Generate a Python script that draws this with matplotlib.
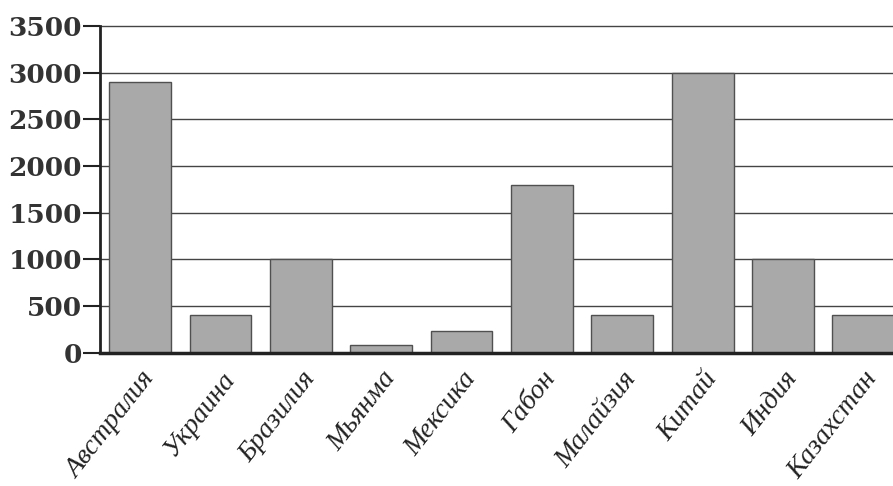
import matplotlib.pyplot as plt

countries = ['Австралия', 'Украина', 'Бразилия', 'Мьянма', 'Мексика',
             'Габон', 'Малайзия', 'Китай', 'Индия', 'Казахстан']
values = [2900, 400, 1000, 80, 230, 1800, 400, 3000, 1000, 400]
yticks = [0, 500, 1000, 1500, 2000, 2500, 3000, 3500]

fig = plt.figure(figsize=(8.93, 4.86), dpi=100)
ax = fig.add_axes([0.112, 0.274, 0.888, 0.6725])

x = range(len(countries))
ax.bar(x, values, width=0.77, color='#a9a9a9', edgecolor='#505050',
       linewidth=1.0, zorder=3)

ax.set_xlim(-0.5, 9.37)
ax.set_ylim(0, 3500)
ax.set_yticks(yticks)
ax.set_yticklabels([str(v) for v in yticks], family='DejaVu Serif',
                   fontsize=19, fontweight='bold', color='#333333')
ax.yaxis.grid(True, color='#444444', linewidth=1.0, zorder=0)
for gl in ax.get_ygridlines():
    gl.set_clip_on(False)

ax.set_xticks(list(x))
ax.set_xticklabels(countries, rotation=52, ha='right', rotation_mode='anchor',
                   family='Liberation Serif', style='italic', fontsize=20,
                   color='#222222')
ax.tick_params(axis='x', length=0, pad=10)
ax.tick_params(axis='y', length=12, width=1.5, pad=1, color='#222222')

for s in ['top', 'right']:
    ax.spines[s].set_visible(False)
ax.spines['left'].set_linewidth(2)
ax.spines['bottom'].set_linewidth(2.5)
ax.spines['left'].set_color('#222222')
ax.spines['bottom'].set_color('#222222')
ax.spines['bottom'].set_zorder(4)

fig.savefig('out.png', dpi=100)
